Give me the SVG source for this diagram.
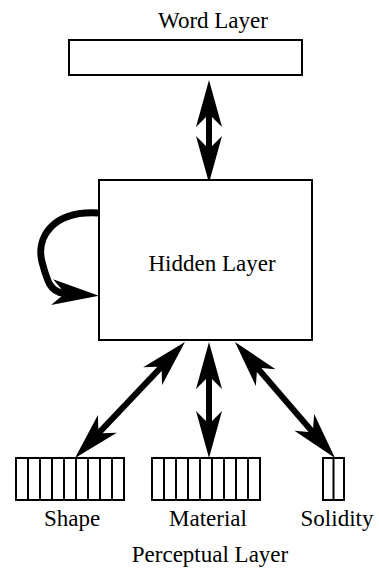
<svg xmlns="http://www.w3.org/2000/svg" width="379" height="568" viewBox="0 0 379 568">
<defs>
<marker id="head" viewBox="-50 -15 52 30" markerWidth="52" markerHeight="30" refX="-36" refY="0" markerUnits="userSpaceOnUse" orient="auto-start-reverse">
<path d="M0,0 L-47,-13 L-37,-3 L-37,3 L-47,13 Z" fill="#000"/>
</marker>
</defs>
<rect width="379" height="568" fill="#fff"/>
<g id="connectors" fill="none" stroke="#000">
<g stroke-width="6" marker-start="url(#head)" marker-end="url(#head)">
<path d="M209,116 L209,147"/>
<path d="M209,378 L209,422"/>
<path d="M160.2,368.1 L99.8,431.9"/>
<path d="M258.5,369.3 L311.5,430.7"/>
</g>
<path stroke-width="7" marker-end="url(#head)" d="M99,213 C52,210 36,238 42,262 C47,280 50,292 63,293"/>
</g>
<g id="word">
<rect x="69" y="40" width="233" height="35" fill="#fff" stroke="#000" stroke-width="2"/>
<text x="213" y="28" font-family="Liberation Serif" font-size="23" text-anchor="middle">Word Layer</text>
</g>
<g id="hidden">
<rect x="99" y="180" width="213" height="160" fill="#fff" stroke="#000" stroke-width="2"/>
<text x="212" y="271" font-family="Liberation Serif" font-size="23" text-anchor="middle">Hidden Layer</text>
</g>
<g id="shape">
<g fill="none" stroke="#000" stroke-width="2">
<rect x="16" y="458" width="108" height="42"/>
<path d="M28,458V500M40,458V500M52,458V500M64,458V500M76,458V500M88,458V500M100,458V500M112,458V500"/>
</g>
<text x="72" y="526" font-family="Liberation Serif" font-size="23" text-anchor="middle">Shape</text>
</g>
<g id="material">
<g fill="none" stroke="#000" stroke-width="2">
<rect x="152" y="458" width="108" height="42"/>
<path d="M164,458V500M176,458V500M188,458V500M200,458V500M212,458V500M224,458V500M236,458V500M248,458V500"/>
</g>
<text x="208" y="526" font-family="Liberation Serif" font-size="23" text-anchor="middle">Material</text>
</g>
<g id="solidity">
<g fill="none" stroke="#000" stroke-width="2">
<rect x="323" y="458" width="21" height="42"/>
<path d="M333.5,458V500"/>
</g>
<text x="337" y="526" font-family="Liberation Serif" font-size="23" text-anchor="middle">Solidity</text>
</g>
<text x="210" y="562" font-family="Liberation Serif" font-size="23" text-anchor="middle">Perceptual Layer</text>
</svg>
